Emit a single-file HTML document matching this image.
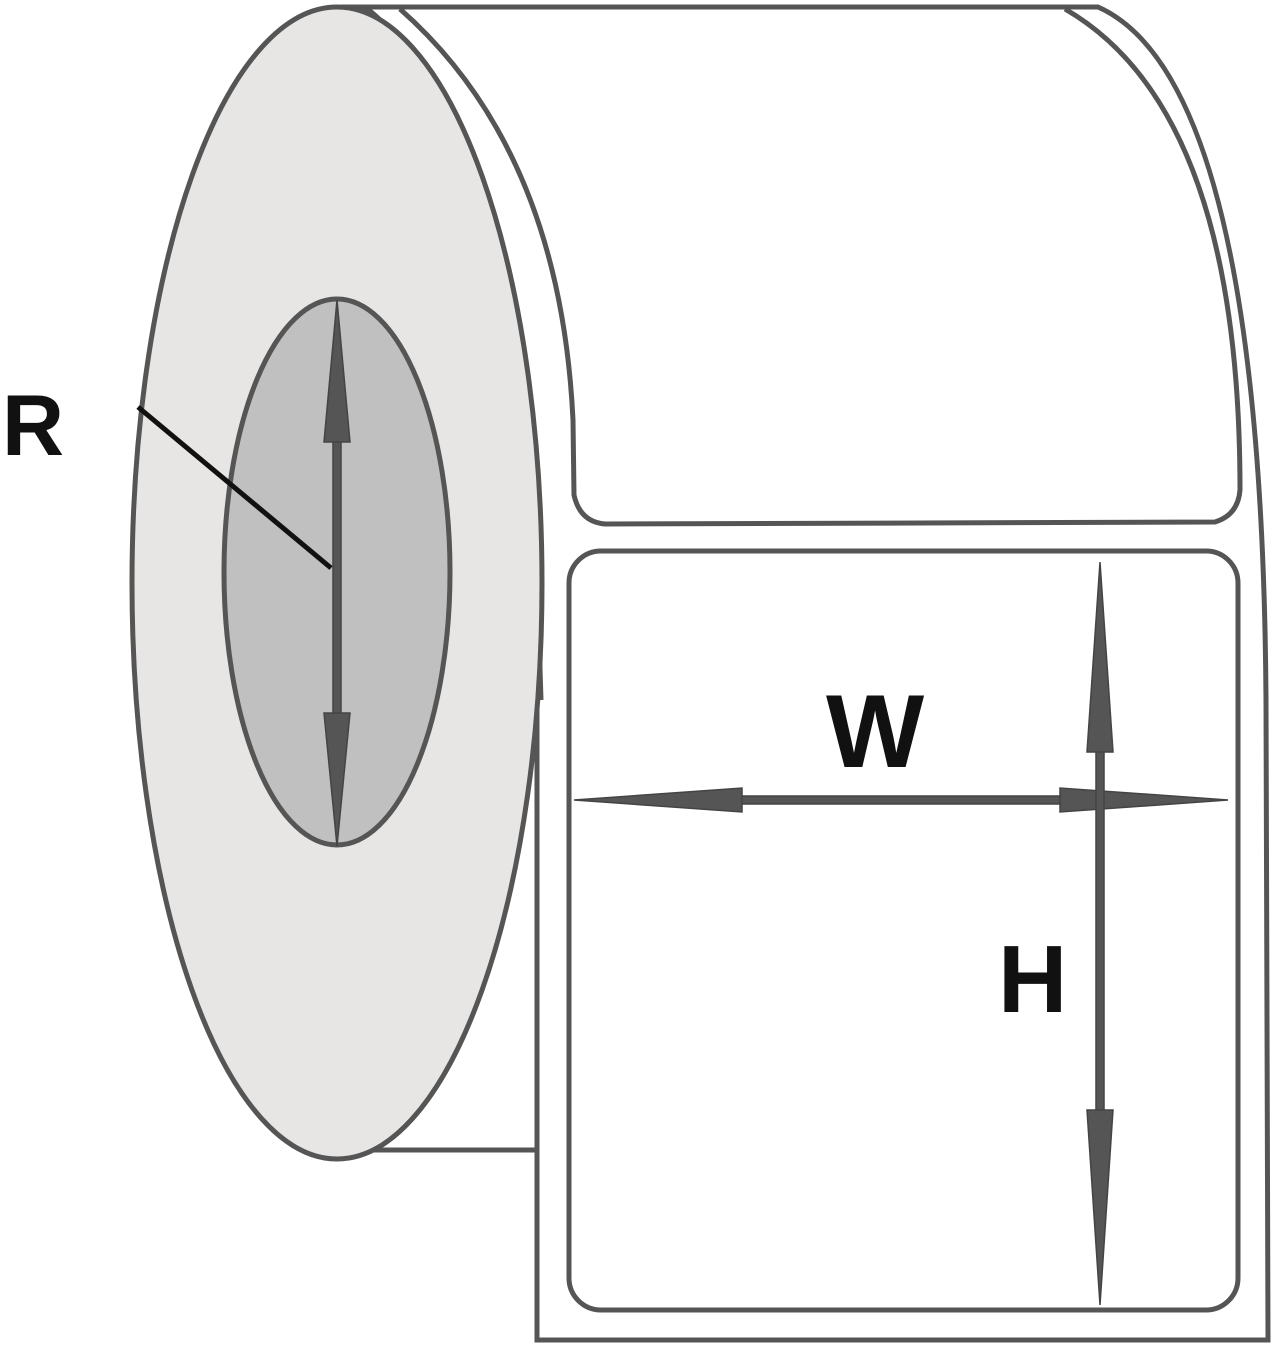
<!DOCTYPE html>
<html><head><style>html,body{margin:0;padding:0;background:#fff}svg{display:block}</style></head>
<body>
<svg width="1280" height="1352" viewBox="0 0 1280 1352" xmlns="http://www.w3.org/2000/svg">
<g fill="none" stroke="#555" stroke-width="5">
<path d="M340 7 L1098 7 Q1262 80 1266 700 L1268 1340 L537 1340 L537 700" fill="#fff"/>
<path d="M370 1150 L537 1150"/>
<path d="M400 9 Q560 150 573 420 L574 495 Q580 522 605 524 L1215 522 Q1238 515 1240 490 Q1240 110 1065 9"/>
<rect x="569" y="551" width="669" height="759" rx="32" fill="#fff"/>
<path d="M365 7 Q525 130 541 700"/>
</g>
<ellipse cx="337" cy="583" rx="205" ry="576" fill="#e8e6e5" stroke="#555" stroke-width="5"/>
<ellipse cx="337" cy="572" rx="113" ry="273" fill="#c0c0c0" stroke="#555" stroke-width="5"/>
<g fill="#555" stroke="#444" stroke-width="1.5">
<rect x="333" y="440" width="8" height="275"/>
<polygon points="337,300 324,442 350,442"/>
<polygon points="337,846 324,713 350,713"/>
<rect x="740" y="796" width="322" height="8"/>
<polygon points="574,800 742,788 742,812"/>
<polygon points="1228,800 1060,788 1060,812"/>
<rect x="1096" y="750" width="8" height="362"/>
<polygon points="1100,562 1087,752 1113,752"/>
<polygon points="1100,1305 1087,1110 1113,1110"/>
</g>
<line x1="138" y1="407" x2="331" y2="568" stroke="#111" stroke-width="5"/>
<g font-family="Liberation Sans, sans-serif" font-weight="bold" fill="#111">
<text x="2" y="455" font-size="86">R</text>
<text x="826" y="767" font-size="104">W</text>
<text x="998" y="1012" font-size="96">H</text>
</g>
</svg>
</body></html>
